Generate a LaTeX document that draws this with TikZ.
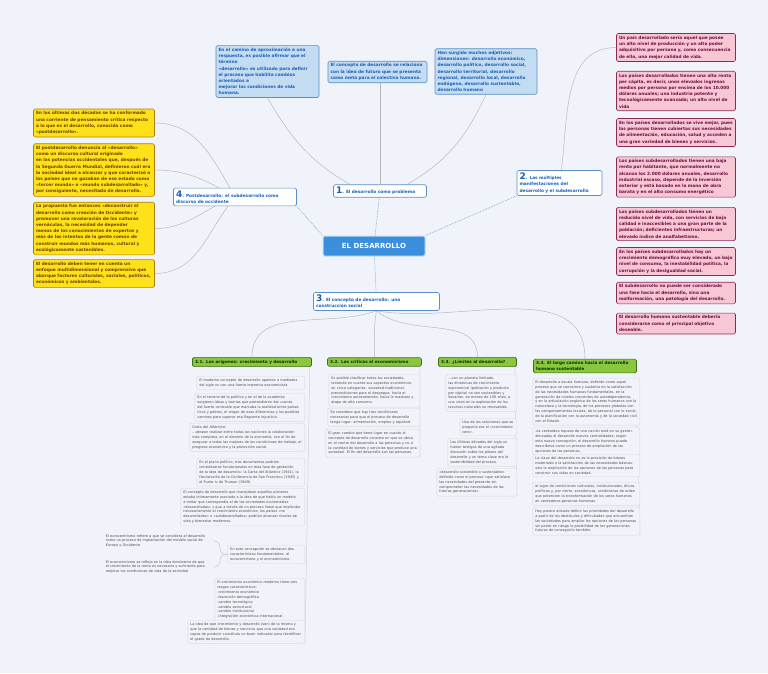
\documentclass[tikz,border=0pt]{standalone}
\usepackage{fontspec}
\setmainfont{DejaVu Sans}
\usepackage{tikz}
\usetikzlibrary{positioning, calc, backgrounds}
\definecolor{bgcol}{HTML}{F1F3FA}
\definecolor{topicblue}{HTML}{1B5FB5}
\definecolor{boxblue}{HTML}{C3DCF2}
\definecolor{lineblue}{HTML}{5A8FC8}
\definecolor{boxyellow}{HTML}{FFE11A}
\definecolor{lineyellow}{HTML}{B07F0A}
\definecolor{textyellow}{HTML}{6A4300}
\definecolor{boxpink}{HTML}{F8C7D6}
\definecolor{linepink}{HTML}{8A2A55}
\definecolor{textpink}{HTML}{6E0E3C}
\definecolor{boxgreen}{HTML}{8CC63F}
\definecolor{linegreen}{HTML}{3F6E17}
\definecolor{centreblue}{HTML}{3A8EDB}
\tikzset{
    basebox/.style={rounded corners=1.5pt, align=left, inner sep=2.5pt, line width=0.6pt,
        font=\bfseries\fontsize{4.3}{6.2}\selectfont},
    topic/.style={basebox, draw=lineblue, fill=white, text=topicblue},
    bluebox/.style={basebox, draw=lineblue, fill=boxblue, text=topicblue},
    yellowbox/.style={basebox, draw=lineyellow, fill=boxyellow, text=textyellow, text width=116pt},
    pinkbox/.style={basebox, draw=linepink, fill=boxpink, text=textpink, text width=114pt},
    greenbox/.style={basebox, draw=linegreen, fill=boxgreen, text=black!80!green, font=\bfseries\fontsize{4.2}{5.4}\selectfont},
    leaf/.style={rounded corners=2pt, draw=gray!30, fill=bgcol, align=left, inner sep=2.5pt,
        text=black!70, font=\fontsize{3.5}{4.9}\selectfont, anchor=north east},
    plain/.style={align=left, inner sep=1pt, text=black!70, font=\fontsize{3.5}{4.9}\selectfont},
    branch/.style={draw=gray!55, line width=0.5pt},
    dotline/.style={draw=lineblue!80, densely dotted, line width=0.7pt},
}
\newcommand{\bignum}[1]{{\fontsize{9}{9}\selectfont #1}}
\hyphenpenalty=10000
\exhyphenpenalty=10000
\begin{document}
\begin{tikzpicture}[x=1pt, y=-1pt]
    \useasboundingbox (0,0) rectangle (768,673);

    % centre
    \node[rounded corners=1.5pt, draw=boxblue, line width=1pt, fill=centreblue, text=white,
        font=\bfseries\fontsize{7}{8}\selectfont, minimum width=102pt, minimum height=20pt]
        (centre) at (374,246) {EL DESARROLLO};

    % main topics
    \node[topic, text width=88pt] (t1) at (380,191) {\bignum{1}. El desarrollo como problema};
    \node[topic, text width=80pt] (t2) at (559.5,183) {\bignum{2}. Las múltiples\\ manifestaciones del\\ desarrollo y el subdesarrollo};
    \node[topic, text width=121pt] (t3) at (376.5,301.5) {\bignum{3}. El concepto de desarrollo: una\\ construcción social};
    \node[topic, text width=118pt] (t4) at (235,197) {\bignum{4}. Postdesarrollo: el subdesarrollo como\\ discurso de occidente};

    % topic 1
    \node[bluebox, text width=98pt] (b1) at (267.5,71.5) {En el camino de aproximación a una respuesta, es posible afirmar que el término\\ «desarrollo» es utilizado para definir el proceso que habilita cambios orientados a\\ mejorar las condiciones de vida humana.};
    \node[bluebox, text width=94pt] (b2) at (377.5,72) {El concepto de desarrollo se relaciona con la idea de futuro que se presenta como meta para el colectivo humano.};
    \node[bluebox, text width=97pt] (b3) at (486,71.5) {Han surgido muchos adjetivos: dimensiones: desarrollo económico, desarrollo político, desarrollo social, desarrollo territorial, desarrollo regional, desarrollo local, desarrollo endógeno, desarrollo sustentable, desarrollo humano};

    % topic 4
    \node[yellowbox] (y1) at (94,123) {En las últimas dos décadas se ha conformado una corriente de pensamiento crítica respecto a lo que es el desarrollo, conocida como «postdesarrollo».};
    \node[yellowbox] (y2) at (94,170) {El postdesarrollo denuncia al «desarrollo» como un discurso cultural originado\\ en las potencias occidentales que, después de la Segunda Guerra Mundial, definieron cuál era la sociedad ideal a alcanzar y que caracterizó a los países que no gozaban de ese estado como «tercer mundo» o «mundo subdesarrollado» y, por consiguiente, necesitado de desarrollo.};
    \node[yellowbox] (y3) at (94,228.5) {La propuesta fue entonces «deconstruir el desarrollo como creación de Occidente» y promover una revaloración de las culturas vernáculas, la necesidad de depender menos de los conocimientos de expertos y más de los intentos de la gente común de construir mundos más humanos, cultural y ecológicamente sostenibles.};
    \node[yellowbox] (y4) at (94,273.5) {El desarrollo deben tener en cuenta un enfoque multidimensional y comprensivo que abarque factores culturales, sociales, políticos, económicos y ambientales.};

    % topic 2
    \node[pinkbox] (p1) at (676,47.5) {Un país desarrollado sería aquel que posee un alto nivel de producción y un alto poder adquisitivo por persona y, como consecuencia de ello, una mejor calidad de vida.};
    \node[pinkbox] (p2) at (676,91) {Los países desarrollados tienen una alta renta per cápita, es decir, unos elevados ingresos medios por persona por encima de los 10.000 dólares anuales; una industria potente y tecnológicamente avanzada; un alto nivel de vida};
    \node[pinkbox] (p3) at (676,132.5) {En los países desarrollados se vive mejor, pues las personas tienen cubiertas sus necesidades de alimentación, educación, salud y acceden a una gran variedad de bienes y servicios.};
    \node[pinkbox] (p4) at (676,177) {Los países subdesarrollados tienen una baja renta por habitante, que normalmente no alcanza los 2.000 dólares anuales, desarrollo industrial escaso, depende de la inversión exterior y está basado en la mano de obra barata y en el alto consumo energético};
    \node[pinkbox] (p5) at (676,224) {Los países subdesarrollados tienen un reducido nivel de vida, con servicios de baja calidad e inaccesibles a una gran parte de la población; deficientes infraestructuras; un elevado índice de analfabetismo.};
    \node[pinkbox] (p6) at (676,261.5) {En los países subdesarrollados hay un crecimiento demográfico muy elevado, un bajo nivel de consumo, la inestabilidad política, la corrupción y la desigualdad social.};
    \node[pinkbox] (p7) at (676,293) {El subdesarrollo no puede ser considerado una fase hacia el desarrollo, sino una malformación, una patología del desarrollo.};
    \node[pinkbox] (p8) at (676,323.5) {El desarrollo humano sustentable debería considerarse como  el principal objetivo deseable.};

    % topic 3
    \node[greenbox, text width=114pt] (g1) at (252,362) {3.1. Los orígenes: crecimiento y desarrollo};
    \node[greenbox, text width=89pt] (g2) at (374.5,362) {3.2. Las críticas al economicismo};
    \node[greenbox, text width=73pt] (g3) at (477.5,362) {3.3. ¿Límites al desarrollo?};
    \node[greenbox, text width=98pt] (g4) at (585,366) {3.4. El largo camino hacia el desarrollo humano sustentable};

    % 3.1
    \node[leaf, text width=103pt] (l11) at (305,376) {El moderno concepto de desarrollo aparece a mediados del siglo xx con una fuerte impronta economicista};
    \node[leaf, text width=105pt] (l12) at (305,393) {En el terreno de la política y en el de la academia surgieron ideas y teorías que pretendieron dar cuenta del fuerte contraste que marcaba la realidad entre países ricos y pobres, el origen de esas diferencias y los posibles caminos para superar esa flagrante injusticia.};
    \node[leaf, text width=110pt] (l13) at (305,423) {Carta del Atlántico:\\ ...desean realizar entre todas las naciones la colaboración más completa, en el dominio de la economía, con el fin de asegurar a todas las mejoras de las condiciones de trabajo, el progreso económico y la protección social.};
    \node[leaf, text width=103pt] (l14) at (305,458) {En el plano político, tres documentos podrían considerarse fundacionales en esta fase de gestación de la idea de desarrollo: la Carta del Atlántico (1941), la Declaración de la Conferencia de San Francisco (1945) y el Punto iv de Truman (1949).};
    \node[leaf, text width=119pt] (l15) at (305,488) {El concepto de desarrollo que manejaban aquellos pioneros estaba íntimamente asociado a la idea de que había un modelo a imitar que correspondía al de las sociedades occidentales «desarrolladas» y que a través de un proceso lineal que implicaba necesariamente el crecimiento económico, los países «no desarrollados» o «subdesarrollados» podrían alcanzar niveles de vida y bienestar modernos.};
    \node[leaf, text width=72pt] (l16) at (305,545) {En esta concepción se destacan dos características fundamentales: el eurocentrismo y el economicismo.};
    \node[plain, text width=108pt, anchor=east] (l16a) at (215,541) {El eurocentrismo refiere a que se considera el desarrollo como un proceso de implantación del modelo social de Europa y Occidente};
    \node[plain, text width=108pt, anchor=east] (l16b) at (215,567) {El economicismo se refleja en la idea dominante de que el crecimiento de la renta es necesario y suficiente para mejorar las condiciones de vida de la sociedad};
    \node[leaf, text width=85pt] (l17) at (305,578) {El crecimiento económico moderno tiene seis rasgos característicos:\\ -crecimiento económico\\ -transición demográfica\\ -cambio tecnológico\\ -cambio estructural\\ -cambio institucional\\ -integración económica internacional};
    \node[leaf, text width=112pt] (l18) at (305,620) {La idea de que crecimiento y desarrollo (son) de la misma y que la cantidad de bienes y servicios que una sociedad era capaz de producir constituía un buen indicador para identificar el grado de desarrollo.};

    % 3.2
    \node[leaf, text width=86pt] (l21) at (420,374) {Es posible clasificar todas las sociedades, teniendo en cuenta sus aspectos económicos, en cinco categorías: sociedad tradicional, precondiciones para el despegue, hacia el crecimiento autosostenido, hacia la madurez y etapa de alto consumo.};
    \node[leaf, text width=87pt] (l22) at (420,408) {Se considera que hay tres condiciones necesarias para que el proceso de desarrollo tenga lugar: alimentación, empleo y equidad.};
    \node[leaf, text width=89pt] (l23) at (420,429) {El gran cambio que tiene lugar en cuanto al concepto de desarrollo consiste en que se ubica en el centro del desarrollo a las personas y no a la cantidad de bienes y servicios que produce una sociedad. El fin del desarrollo son las personas.};

    % 3.3
    \node[leaf, text width=66pt] (l31) at (517,374) {...con un planeta limitado, las dinámicas de crecimiento exponencial (población y producto per cápita) no son sostenibles y llevarían, en menos de 100 años, a una crisis en la explotación de los recursos naturales no renovables.};
    \node[leaf, text width=52pt] (l32) at (517,418) {Una de las soluciones que se proponía era el «crecimiento cero».};
    \node[leaf, text width=64pt] (l33) at (517,438) {Las últimas décadas del siglo xx fueron testigos de una agitada discusión sobre los pilares del desarrollo y un tema clave era la sostenibilidad del proceso.};
    \node[leaf, text width=75pt] (l34) at (517,468) {«desarrollo sostenible o sustentable» definido como el proceso «que satisface las necesidades del presente sin comprometer las necesidades de las futuras generaciones».};

    % 3.4
    \node[leaf, text width=102pt] (l41) at (640,378) {El desarrollo a escala humana, definido como aquel proceso que se concentra y sustenta en la satisfacción de las necesidades humanas fundamentales, en la generación de niveles crecientes de autodependencia, y en la articulación orgánica de los seres humanos con la naturaleza y la tecnología, de los procesos globales con los comportamientos locales, de lo personal con lo social, de la planificación con la autonomía y de la sociedad civil con el Estado.};
    \node[leaf, text width=102pt] (l42) at (640,427) {«la verdadera riqueza de una nación está en su gente» alineadas al desarrollo nuevas centralidades, según esta nueva concepción, el desarrollo humano puede describirse como un proceso de ampliación de las opciones de las personas.};
    \node[leaf, text width=102pt] (l43) at (640,454) {La clave del desarrollo no es la provisión de bienes materiales o la satisfacción de las necesidades básicas, sino la ampliación de las opciones de las personas para construir sus vidas en sociedad.};
    \node[leaf, text width=102pt] (l44) at (640,482) {el logro de condiciones culturales, institucionales, éticas, políticas y, por cierto, económicas, condiciones de orden que potencien la transformación de los seres humanos en verdaderas personas humanas.};
    \node[leaf, text width=102pt] (l45) at (640,507) {Hoy parece atinado definir las prioridades del desarrollo a partir de los obstáculos y dificultades que encuentran las sociedades para ampliar las opciones de las personas sin poner en riesgo la posibilidad de las generaciones futuras de conseguirlo también.};

    \begin{pgfonlayer}{background}
        \fill[bgcol] (0,0) rectangle (768,673);

        % dotted links from the centre
        \draw[dotline] (centre) -- (t1);
        \draw[dotline] (centre.north east) -- (t2.south west);
        \draw[dotline] (centre) -- (t3);
        \draw[dotline] (centre.north west) -- (t4.south east);

        % topic 1
        \draw[branch] (t1.north) ++(-30,0) to[out=150, in=-60] (b1.south);
        \draw[branch] (t1.north) -- (t1.north |- b2.south);
        \draw[branch] (t1.north) ++(27,0) to[out=30, in=-115] (b3.south);

        % topic 4
        \foreach \leafbox/\outangle in {y1/120, y2/150, y3/200, y4/230}
        {
            \draw[branch] (t4.center) to[out=\outangle, in=0] (\leafbox.east);
        }

        % topic 2
        \foreach \leafbox in {p1,...,p8}
        {
            \draw[branch] (t2.center) to[out=80, in=180] (\leafbox.west);
        }

        % topic 3
        \foreach \header/\outangle in {g1/-160, g2/-100, g3/-40, g4/-10}
        {
            \draw[branch] (t3.south) to[out=\outangle, in=90] (\header.north);
        }

        % vertical stems of the four columns
        \draw[branch, gray!35] (g1.south east) ++(-2,0) -- (l18.south east);
        \draw[branch, gray!35] (g2.south east) ++(-2,0) -- (l23.south east);
        \draw[branch, gray!35] (g3.south east) ++(-2,0) -- (l34.south east);
        \draw[branch, gray!35] (g4.south east) ++(-2,0) -- (l45.south east);

        % the two sub-branches under 3.1
        \draw[branch, gray!45, rounded corners=6pt] (l16a.east) -- ++(5,0) |- (l16.west);
        \draw[branch, gray!45, rounded corners=6pt] (l16b.east) -- ++(5,0) |- (l16.west);
    \end{pgfonlayer}
\end{tikzpicture}
\end{document}
